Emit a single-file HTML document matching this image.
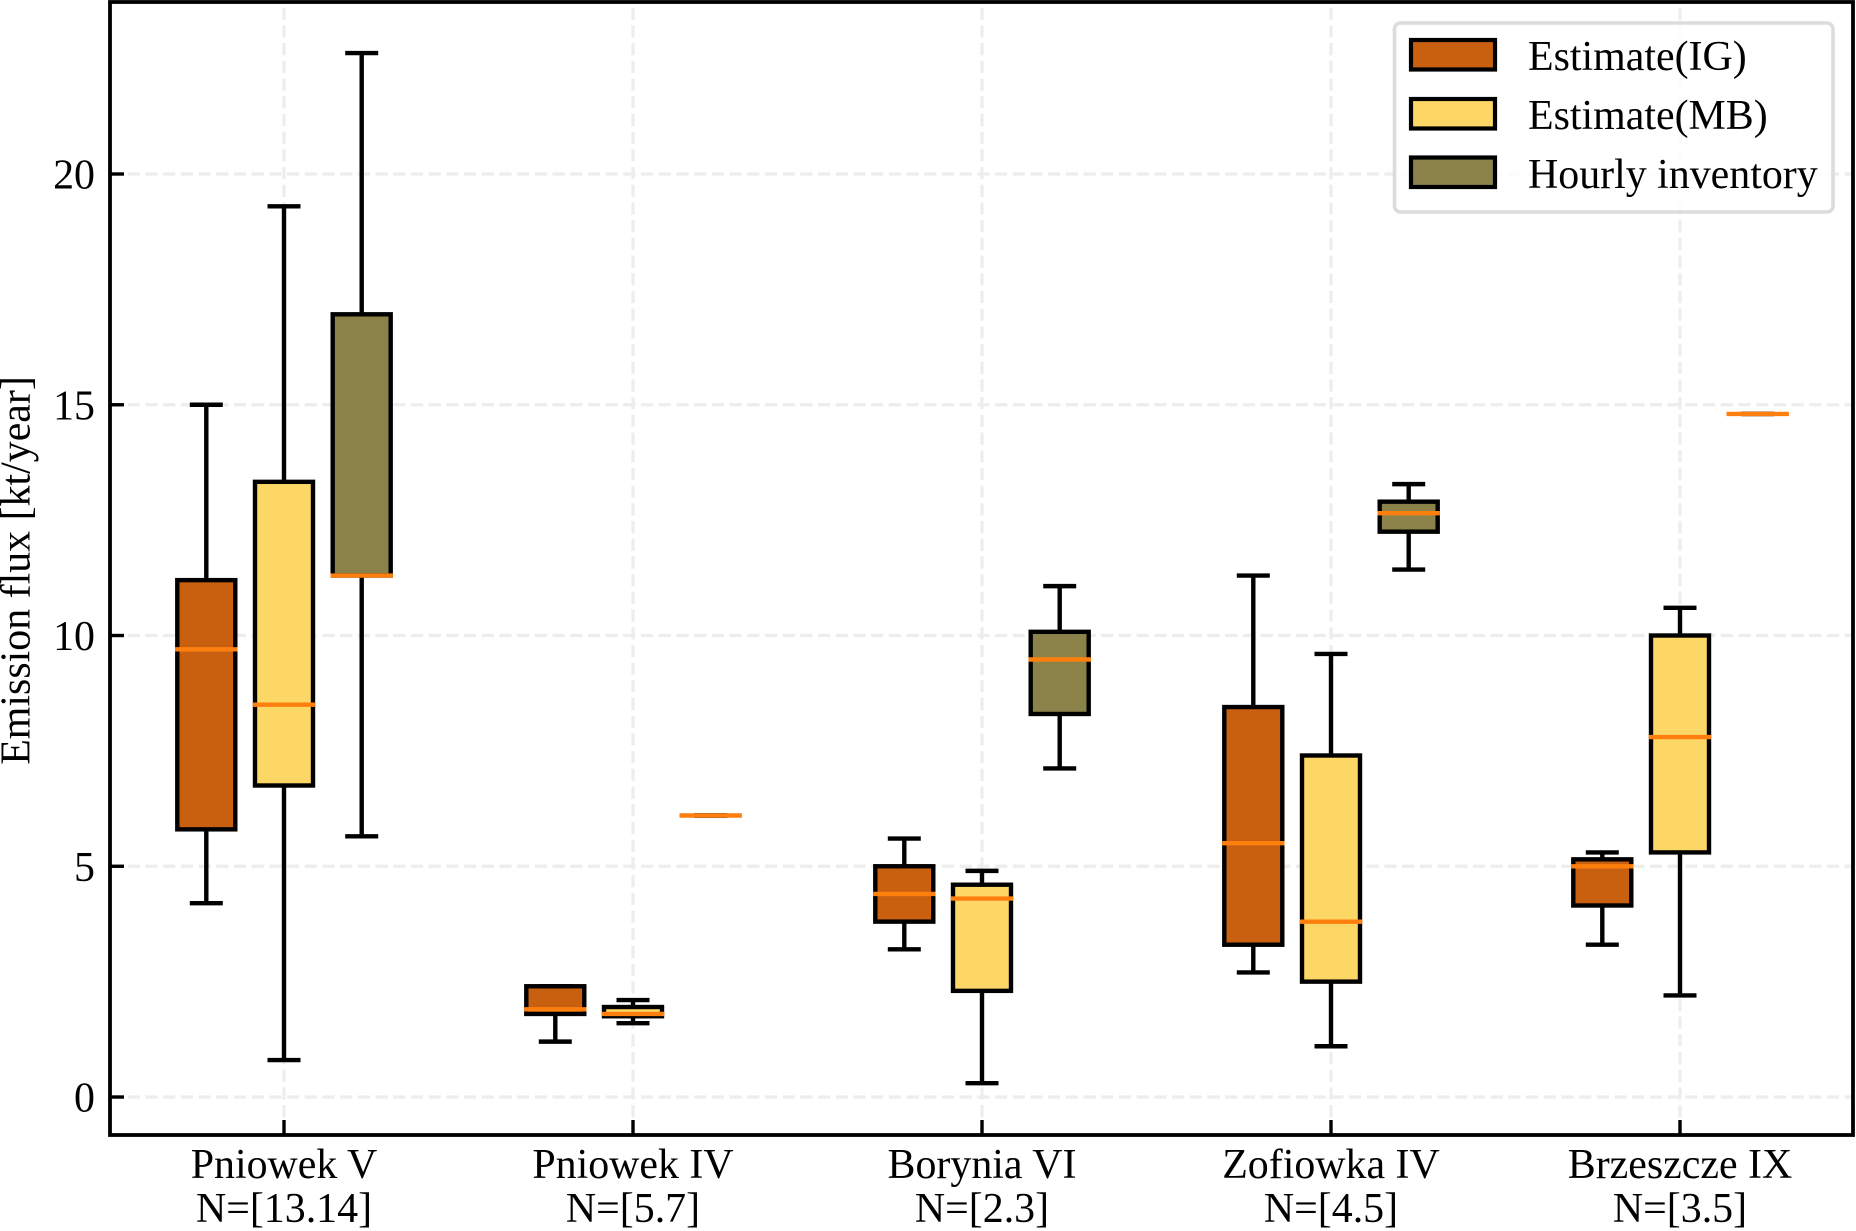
<!DOCTYPE html>
<html>
<head>
<meta charset="utf-8">
<title>Emission flux box plot</title>
<style>
html,body{margin:0;padding:0;background:#fff;}
svg{display:block;}
text{font-family:"Liberation Serif","Times New Roman",serif;fill:#000;font-size:41.9px;}
</style>
</head>
<body>
<svg id="chart" xmlns="http://www.w3.org/2000/svg" width="1856" height="1231" viewBox="0 0 1856 1231">
<rect x="0" y="0" width="1856" height="1231" fill="#ffffff"/>
<g id="grid"></g>
<g id="boxes"></g>
<rect x="110" y="2" width="1743" height="1133" fill="none" stroke="#000" stroke-width="3.8"/>
<g id="ticks"></g>
<text transform="translate(29.5 570.5) rotate(-90)" text-anchor="middle">Emission flux [kt/year]</text>
<g>
  <rect x="1394.5" y="23" width="438.5" height="189" rx="6" ry="6" fill="#ffffff" fill-opacity="0.8" stroke="#dcdcdc" stroke-width="3.6"/>
  <rect x="1411" y="40" width="84" height="29.5" fill="#c96010" stroke="#000" stroke-width="4.2"/>
  <text x="1528" y="70">Estimate(IG)</text>
  <rect x="1411" y="99" width="84" height="29.5" fill="#fdd766" stroke="#000" stroke-width="4.2"/>
  <text x="1528" y="129">Estimate(MB)</text>
  <rect x="1411" y="157.5" width="84" height="29.5" fill="#8a8248" stroke="#000" stroke-width="4.2"/>
  <text x="1528" y="188">Hourly inventory</text>
</g>
</svg>
<script>
var categories = ['Pniowek V', 'Pniowek IV', 'Borynia VI', 'Zofiowka IV', 'Brzeszcze IX'];
var sampleLabels = ['N=[13.14]', 'N=[5.7]', 'N=[2.3]', 'N=[4.5]', 'N=[3.5]'];
var yTickValues = [0, 5, 10, 15, 20];
var yTickLabels = ['0', '5', '10', '15', '20'];

var igLow = [4.2, 1.2, 3.2, 2.7, 3.3];
var igQ1 = [5.8, 1.8, 3.8, 3.3, 4.15];
var igMedian = [9.7, 1.9, 4.4, 5.5, 5.0];
var igQ3 = [11.2, 2.4, 5.0, 8.45, 5.15];
var igHigh = [15.0, 2.4, 5.6, 11.3, 5.3];

var mbLow = [0.8, 1.6, 0.3, 1.1, 2.2];
var mbQ1 = [6.75, 1.75, 2.3, 2.5, 5.3];
var mbMedian = [8.5, 1.8, 4.3, 3.8, 7.8];
var mbQ3 = [13.33, 1.95, 4.6, 7.4, 10.0];
var mbHigh = [19.3, 2.1, 4.9, 9.6, 10.6];

var hourlyLow = [5.65, 6.1, 7.12, 11.43, 14.8];
var hourlyQ1 = [11.3, 6.1, 8.3, 12.25, 14.8];
var hourlyMedian = [11.3, 6.1, 9.48, 12.65, 14.8];
var hourlyQ3 = [16.96, 6.1, 10.08, 12.9, 14.8];
var hourlyHigh = [22.62, 6.1, 11.07, 13.28, 14.8];

var NS = 'http://www.w3.org/2000/svg';
var plotLeft = 110, plotRight = 1853, plotTop = 2, plotBottom = 1135;
var yDomainMin = -0.823, yDomainMax = 23.727;
var firstCategoryX = 284, categoryStep = 349;
var seriesOffset = 77.7, boxWidth = 58, capWidth = 33;
var strokeWidth = 4.4;

function yScale(v) {
  return plotBottom - (v - yDomainMin) / (yDomainMax - yDomainMin) * (plotBottom - plotTop);
}
function xScale(categoryIndex) {
  return firstCategoryX + categoryIndex * categoryStep;
}
function seriesX(categoryIndex, seriesIndex) {
  return xScale(categoryIndex) + (seriesIndex - 1) * seriesOffset;
}
function make(tag, attrs, parent) {
  var el = document.createElementNS(NS, tag);
  for (var k in attrs) { el.setAttribute(k, attrs[k]); }
  parent.appendChild(el);
  return el;
}
function line(x1, y1, x2, y2, stroke, width, parent) {
  return make('line', {x1: x1, y1: y1, x2: x2, y2: y2, stroke: stroke, 'stroke-width': width}, parent);
}

var gridG = document.getElementById('grid');
var boxesG = document.getElementById('boxes');
var ticksG = document.getElementById('ticks');
var gridColor = '#ededed';

yTickValues.forEach(function (v, i) {
  var y = yScale(v);
  var g = line(plotLeft, y, plotRight, y, gridColor, 3.2, gridG);
  g.setAttribute('stroke-dasharray', '12.2 5.5');
  
  
  var t = line(plotLeft, y, plotLeft + 14, y, '#000', 3.4, ticksG);
  
  
  var lab = make('text', {x: 95, y: y + 14.5, 'text-anchor': 'end'}, ticksG);
  lab.textContent = yTickLabels[i];
  
  
});

categories.forEach(function (name, i) {
  var x = xScale(i);
  var g = line(x, plotBottom, x, plotTop, gridColor, 3.2, gridG);
  g.setAttribute('stroke-dasharray', '12.2 5.5');
  
  
  var t = line(x, plotBottom, x, plotBottom - 15, '#000', 3.4, ticksG);
  
  
  var lab = make('text', {x: x, y: 1178, 'text-anchor': 'middle'}, ticksG);
  lab.textContent = name;
  
  
  var sub = make('text', {x: x, y: 1222, 'text-anchor': 'middle'}, ticksG);
  sub.textContent = sampleLabels[i];
  
  
});

function drawSeries(seriesIndex, key, fill, low, q1, med, q3, high) {
  categories.forEach(function (name, i) {
    var cx = seriesX(i, seriesIndex);
    var group = make('g', {}, boxesG);
    
    

    var w1 = line(cx, yScale(q1[i]), cx, yScale(low[i]), '#000', strokeWidth, group);
    
    
    var w2 = line(cx, yScale(q3[i]), cx, yScale(high[i]), '#000', strokeWidth, group);
    
    

    var rect = make('rect', {
      x: cx - boxWidth / 2,
      y: yScale(q3[i]),
      width: boxWidth,
      height: yScale(q1[i]) - yScale(q3[i]),
      fill: fill,
      stroke: '#000',
      'stroke-width': strokeWidth
    }, group);
    
    

    var c1 = line(cx - capWidth / 2, yScale(low[i]), cx + capWidth / 2, yScale(low[i]), '#000', strokeWidth, group);
    
    
    var c2 = line(cx - capWidth / 2, yScale(high[i]), cx + capWidth / 2, yScale(high[i]), '#000', strokeWidth, group);
    
    

    var m = line(cx - boxWidth / 2 - 2.2, yScale(med[i]), cx + boxWidth / 2 + 2.2, yScale(med[i]), '#ff7f0e', strokeWidth, group);
    
    
  });
}

drawSeries(0, 'ig', '#c96010', igLow, igQ1, igMedian, igQ3, igHigh);
drawSeries(1, 'mb', '#fdd766', mbLow, mbQ1, mbMedian, mbQ3, mbHigh);
drawSeries(2, 'hourly', '#8a8248', hourlyLow, hourlyQ1, hourlyMedian, hourlyQ3, hourlyHigh);
</script>
</body>
</html>
